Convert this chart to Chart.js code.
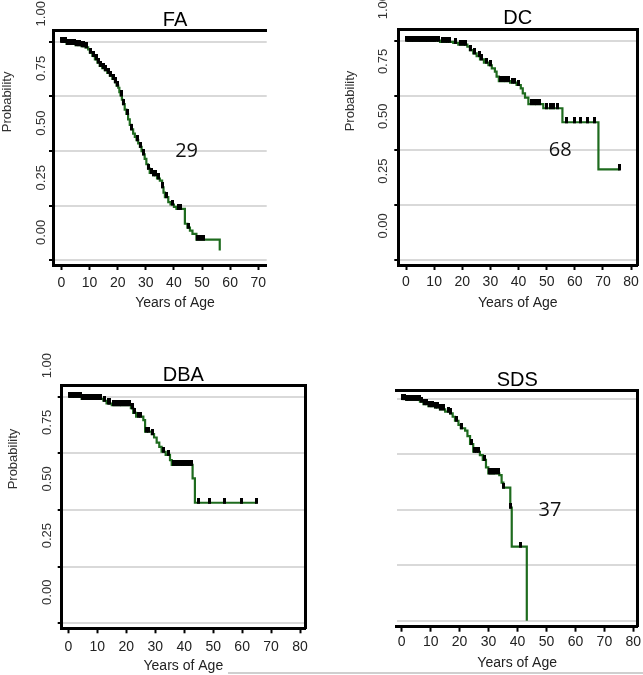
<!DOCTYPE html>
<html>
<head>
<meta charset="utf-8">
<script src="https://cdn.jsdelivr.net/npm/chart.js@4.4.1/dist/chart.umd.min.js"></script>
<style>
  body { margin: 0; background: #fff; width: 643px; height: 675px; position: relative; overflow: hidden; }
  canvas { position: absolute; }
  #edge { position: absolute; left: 228px; top: 672px; width: 415px; height: 2px; background: #cfcfcf; }
</style>
</head>
<body>
<canvas id="fa" width="350" height="320" style="left:0;top:0"></canvas>
<canvas id="dc" width="313" height="320" style="left:330px;top:0"></canvas>
<canvas id="dba" width="320" height="335" style="left:0;top:340px"></canvas>
<canvas id="sds" width="313" height="335" style="left:330px;top:340px"></canvas>
<div id="edge"></div>
<script>
Chart.defaults.font.family = '"Liberation Sans", Arial, sans-serif';
Chart.defaults.color = '#333';

const probTicks = [0, 0.25, 0.5, 0.75, 1];
const ageTicks70 = [0, 10, 20, 30, 40, 50, 60, 70];
const ageTicks80 = [0, 10, 20, 30, 40, 50, 60, 70, 80];

// FA
const faAge = [0, 1.8, 5, 7.1, 8.5, 9.5, 10.1, 11, 11.9, 12.8, 13.6, 14.5, 15.4, 16.3, 17.2, 18.1, 19, 19.6, 20.2, 20.6,
  21, 21.5, 21.9, 22.5, 23.1, 23.7, 24.3, 24.9, 25.5, 26.1, 26.7, 27.3, 27.9, 28.5, 29.1, 29.6, 30.2, 30.8, 31.4, 32.6,
  34, 35, 35.8, 36.3, 36.8, 38, 38.8, 40, 40.9, 43.9, 44.8, 45.7, 46.6, 48, 56.3];
const faSurv = [1, 0.99, 0.985, 0.98, 0.975, 0.965, 0.95, 0.935, 0.92, 0.905, 0.89, 0.88, 0.87, 0.858, 0.845, 0.83, 0.815, 0.8, 0.79, 0.77,
  0.755, 0.735, 0.715, 0.69, 0.67, 0.645, 0.62, 0.6, 0.58, 0.565, 0.55, 0.535, 0.52, 0.5, 0.485, 0.465, 0.44, 0.42, 0.4, 0.39,
  0.375, 0.365, 0.335, 0.31, 0.29, 0.267, 0.256, 0.245, 0.236, 0.168, 0.15, 0.137, 0.122, 0.095, 0.046];
const faCensor = [0.2, 0.5, 0.8, 1.2, 1.5, 2, 2.5, 3, 3.5, 4, 4.5, 5.5, 6, 6.5, 7.5, 8, 9, 10.5, 11.5, 12.3, 13.2, 14, 15, 15.8,
  16.8, 17.6, 18.5, 19.3, 20, 21.2, 22.2, 23.4, 25, 27, 28.2, 29.3, 31, 32, 32.8, 33.4, 34.5, 36, 37.5, 39.4, 41.5, 42.5,
  45.2, 48.5, 49.5, 50.5];

// DC
const dcAge = [0, 12.1, 16.8, 18.6, 21.8, 22.7, 23.9, 25.1, 26.3, 27.7, 29.3, 30.5, 31.6, 32.2, 33, 37, 39.3, 40.8, 41.5, 42.3,
  43.5, 48.8, 55.6, 68.4, 76];
const dcSurv = [1, 0.995, 0.99, 0.982, 0.973, 0.957, 0.942, 0.93, 0.915, 0.9, 0.888, 0.874, 0.859, 0.836, 0.816, 0.809, 0.798, 0.783, 0.76, 0.74,
  0.711, 0.692, 0.628, 0.413, 0.413];
const dcCensor = [0.3, 0.8, 1.3, 1.8, 2.3, 2.8, 3.3, 3.8, 4.3, 4.8, 5.3, 5.8, 6.3, 6.8, 7.3, 7.8, 8.3, 8.8, 9.3, 9.8, 10.3, 11,
  11.5, 13, 14, 14.8, 15.5, 17.5, 19.5, 20.5, 21.2, 23, 24.5, 26, 27, 28.5, 30, 33.5, 34.5, 35.5, 36.5, 37.8, 38.5, 40,
  44.5, 45.5, 46.5, 47.5, 50, 51.5, 52.5, 54, 57, 60, 62, 64.5, 67, 76];

// DBA
const dbaAge = [0, 4.6, 12.1, 13.2, 15, 21.6, 22.4, 23.4, 25.9, 26.5, 28.8, 29.6, 30.5, 31.4, 32.2, 33.6, 35.1, 35.7, 42.9, 43.7, 65];
const dbaSurv = [1, 0.99, 0.982, 0.97, 0.963, 0.949, 0.929, 0.912, 0.897, 0.846, 0.835, 0.82, 0.797, 0.779, 0.757, 0.743, 0.72, 0.699, 0.64, 0.532, 0.532];
const dbaCensor = [0.3, 0.8, 1.3, 1.8, 2.3, 2.8, 3.3, 3.8, 4.3, 5, 5.5, 6, 6.5, 7, 7.5, 8, 8.5, 9, 9.5, 10, 10.5, 11, 12.5,
  13.8, 14.3, 15.5, 16, 16.5, 17, 17.5, 18, 18.5, 19, 19.5, 20, 20.5, 21, 22, 23, 24.2, 25, 27, 27.8, 29, 33, 34.5, 36.2,
  37, 37.8, 38.6, 39.4, 40.2, 41, 41.8, 42.5, 45.1, 48.9, 53.9, 59.8, 65];

// SDS
const sdsAge = [0, 1.5, 6.3, 7.5, 9.2, 11.5, 13.2, 15, 16.7, 17.6, 18.4, 19.6, 20.4, 21.9, 22.7, 23.6, 24.7, 27, 28, 29.1,
  29.9, 33.7, 34.5, 35.1, 37.5, 38, 43.2];
const sdsSurv = [1, 0.997, 0.988, 0.977, 0.968, 0.962, 0.953, 0.943, 0.935, 0.92, 0.902, 0.883, 0.868, 0.857, 0.833, 0.797, 0.762, 0.747, 0.725, 0.692,
  0.665, 0.657, 0.623, 0.6, 0.51, 0.334, 0];
const sdsCensor = [0.3, 0.7, 1.1, 1.5, 2, 2.5, 3, 3.5, 4, 4.5, 5, 5.5, 6, 6.7, 7.8, 8.5, 9.5, 10.2, 10.8, 11.8, 12.5, 13.5,
  14.5, 16, 17, 18.8, 20.8, 24, 25, 25.8, 26.5, 28.5, 30.3, 30.8, 31.3, 31.8, 32.5, 33.3, 35.3, 37.5, 40.9];

// value of the step curve at age t
function survAt(ages, surv, t) {
  let s = surv[0];
  for (let i = 0; i < ages.length; i++) {
    if (ages[i] <= t) s = surv[i];
  }
  return s;
}

// censor mark: small black block sitting on top of the line
function censorTick() {
  const c = document.createElement('canvas');
  c.width = 3;
  c.height = 10;
  const g = c.getContext('2d');
  g.fillStyle = '#000';
  g.fillRect(0, 0, 3, 6);
  return c;
}
const tickImg = censorTick();

// y title and the median number inside the plot
const panelText = {
  id: 'panelText',
  afterDraw(chart, args, opts) {
    const ctx = chart.ctx;
    const xs = chart.scales.x;
    const ys = chart.scales.y;
    ctx.save();
    ctx.textAlign = 'center';
    ctx.textBaseline = 'middle';
    if (opts.yTitle) {
      ctx.save();
      ctx.font = '13px "Liberation Sans", Arial, sans-serif';
      ctx.fillStyle = '#333';
      ctx.translate(opts.yTitleX, ys.getPixelForValue(opts.yTitleAt));
      ctx.rotate(-Math.PI / 2);
      ctx.fillText(opts.yTitle, 0, 0);
      ctx.restore();
    }
    if (opts.note) {
      ctx.font = '20px "Open Sans", sans-serif';
      ctx.fillStyle = '#111';
      ctx.fillText(opts.note, xs.getPixelForValue(opts.noteAt[0]), ys.getPixelForValue(opts.noteAt[1]));
    }
    ctx.restore();
  }
};

function makePanel(id, p) {
  const black = '#000';
  const curve = p.ages.map((t, i) => ({x: t, y: p.surv[i]}));
  const marks = p.censor.map(t => ({x: t, y: survAt(p.ages, p.surv, t)}));

  return new Chart(document.getElementById(id), {
    type: 'line',
    data: {
      datasets: [{
        data: marks,
        showLine: false,
        pointStyle: tickImg,
        pointRadius: 3
      }, {
        data: curve,
        stepped: true,
        borderColor: '#1e6b1e',
        borderWidth: 2.2,
        pointRadius: 0
      }]
    },
    plugins: [panelText],
    options: {
      responsive: false,
      animation: false,
      events: [],
      layout: {autoPadding: false, padding: {left: 0, right: 0, top: 0, bottom: p.padBottom}},
      plugins: {
        legend: {display: false},
        tooltip: {enabled: false},
        title: {
          display: true,
          text: p.title,
          fullSize: p.titleFull,
          color: '#000',
          font: {size: 20, lineHeight: 1, weight: 'normal'},
          padding: p.titlePad
        },
        subtitle: {
          display: !p.axisTitle,
          text: 'Years of Age',
          position: 'bottom',
          color: '#222',
          font: {size: 14},
          padding: {top: 0, bottom: 0}
        },
        panelText: {
          yTitle: p.leftAxis ? 'Probability' : '',
          yTitleX: p.yTitleX,
          yTitleAt: 0.725,
          note: p.note,
          noteAt: p.noteAt
        }
      },
      scales: {
        x: {
          type: 'linear',
          position: 'bottom',
          min: p.xMin,
          max: p.xMax,
          afterBuildTicks: s => { s.ticks = p.xTicks.map(v => ({value: v})); },
          afterFit: s => { s.height = p.xAxisH; },
          grid: {drawOnChartArea: false, tickColor: black, tickWidth: 2, tickLength: 5},
          border: {color: black, width: 3},
          ticks: {padding: p.xTickPad, color: '#222', font: {size: 14}, maxRotation: 0, autoSkip: false, callback: v => v},
          title: {display: p.axisTitle, text: 'Years of Age', color: '#222', font: {size: 14}, padding: {top: 0, bottom: 0}}
        },
        y: {
          type: 'linear',
          position: 'left',
          min: p.yMin,
          max: p.yMax,
          afterBuildTicks: s => { s.ticks = probTicks.map(v => ({value: v})); },
          afterFit: s => { s.width = p.yAxisW; },
          grid: {color: '#d9d9d9', lineWidth: 2, drawTicks: p.leftAxis, tickColor: black, tickWidth: 2, tickLength: 4},
          border: {display: p.leftAxis, color: black, width: 3},
          ticks: {
            display: p.leftAxis,
            padding: p.yLabelPad,
            labelOffset: p.yLabelOffset,
            minRotation: 90,
            maxRotation: 90,
            autoSkip: false,
            color: '#333',
            font: {size: 13},
            callback: v => v.toFixed(2)
          }
        },
        xt: {
          type: 'linear',
          position: 'top',
          afterFit: s => { s.height = 0; },
          grid: {display: false, drawTicks: false},
          border: {color: black, width: 3},
          ticks: {display: false}
        },
        yr: {
          type: 'linear',
          position: 'right',
          afterFit: s => { s.width = p.rightW; },
          grid: {display: false, drawTicks: false},
          border: {display: p.rightBorder, color: black, width: 3},
          ticks: {display: false}
        }
      }
    }
  });
}

makePanel('fa', {
  ages: faAge, surv: faSurv, censor: faCensor, title: 'FA', note: '29', noteAt: [44.5, 0.5],
  xMin: -3, xMax: 73, xTicks: ageTicks70, yMin: -0.0206, yMax: 1.054,
  titleFull: true, titlePad: {top: 10, bottom: 0}, yAxisW: 53, rightW: 83.3, rightBorder: false, leftAxis: true,
  xAxisH: 30, xTickPad: 5, axisTitle: false, padBottom: 8.2, yLabelPad: 8, yLabelOffset: -40.7, yTitleX: 7
});

makePanel('dc', {
  ages: dcAge, surv: dcSurv, censor: dcCensor, title: 'DC', note: '68', noteAt: [54.8, 0.5],
  xMin: -2.74, xMax: 82.2, xTicks: ageTicks80, yMin: -0.023, yMax: 1.052,
  titleFull: false, titlePad: {top: 8.3, bottom: 1}, yAxisW: 68.3, rightW: 5.7, rightBorder: true, leftAxis: true,
  xAxisH: 46.4, xTickPad: 4, axisTitle: true, padBottom: 8.6, yLabelPad: 11, yLabelOffset: -46.7, yTitleX: 20
});

makePanel('dba', {
  ages: dbaAge, surv: dbaSurv, censor: dbaCensor, title: 'DBA', note: '', noteAt: [0, 0],
  xMin: -2.28, xMax: 81.7, xTicks: ageTicks80, yMin: -0.022, yMax: 1.0516,
  titleFull: false, titlePad: {top: 25, bottom: 0}, yAxisW: 61.7, rightW: 15, rightBorder: true, leftAxis: true,
  xAxisH: 46.7, xTickPad: 5, axisTitle: true, padBottom: 0, yLabelPad: 10.5, yLabelOffset: -43.7, yTitleX: 13.3
});

makePanel('sds', {
  ages: sdsAge, surv: sdsSurv, censor: sdsCensor, title: 'SDS', note: '37', noteAt: [51.2, 0.5],
  xMin: -1.73, xMax: 81.5, xTicks: ageTicks80, yMin: -0.027, yMax: 1.0406,
  titleFull: false, titlePad: {top: 30, bottom: 0}, yAxisW: 66.7, rightW: 5.3, rightBorder: true, leftAxis: false,
  xAxisH: 44.4, xTickPad: 1.6, axisTitle: true, padBottom: 3.9, yLabelPad: 8, yLabelOffset: 0, yTitleX: 0
});
</script>
</body>
</html>
